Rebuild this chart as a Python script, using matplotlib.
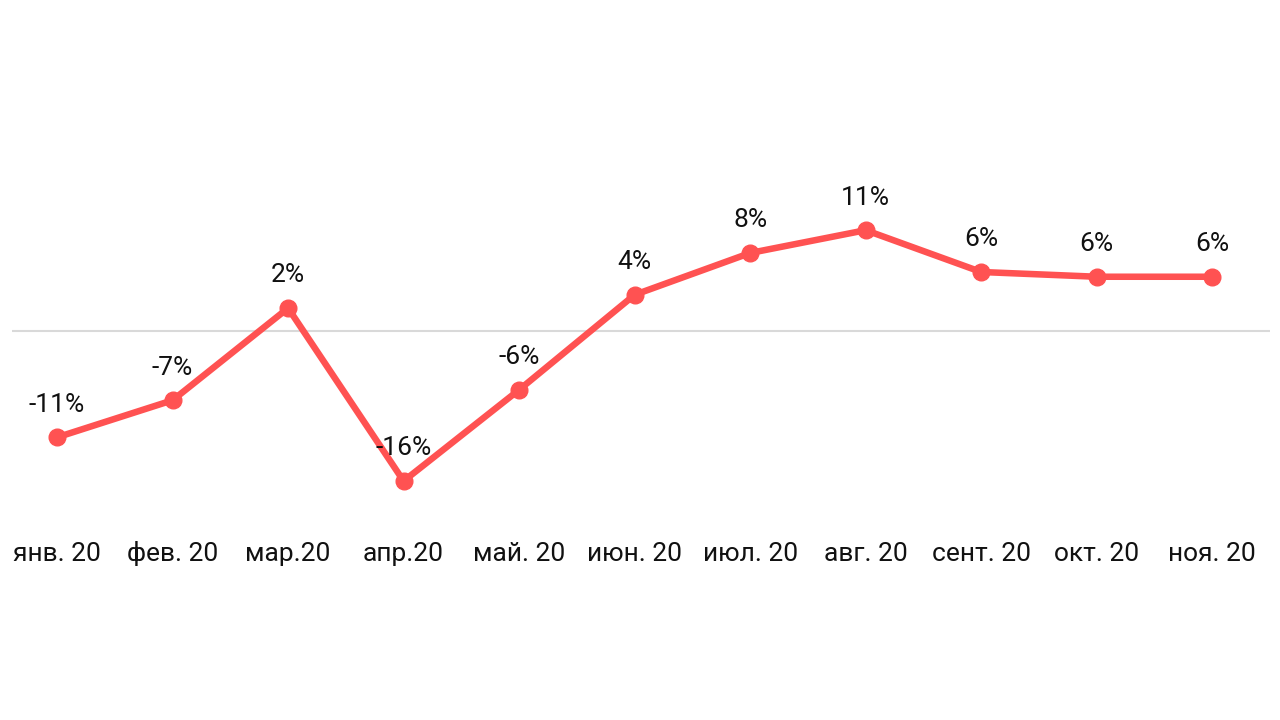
import matplotlib.pyplot as plt

plt.rcParams['font.family'] = ['Roboto', 'DejaVu Sans']

months = ['янв. 20', 'фев. 20', 'мар.20', 'апр.20', 'май. 20', 'июн. 20',
          'июл. 20', 'авг. 20', 'сент. 20', 'окт. 20', 'ноя. 20']
values = [-11.2, -7.3, 2.4, -15.8, -6.2, 3.8, 8.2, 10.6, 6.2, 5.7, 5.7]

fig = plt.figure(figsize=(12.8, 7.2), dpi=100)
ax = fig.add_axes([12 / 1280, 200 / 720, 1258 / 1280, 420 / 720])

x = list(range(len(months)))
ax.axhline(0, color='#d9d9d9', linewidth=1.5, zorder=1)
ax.plot(x, values, color='#ff5252', linewidth=4.7, marker='o',
        markersize=12, zorder=3, solid_capstyle='round')

# data labels above each point
for xi, v in zip(x, values):
    ax.annotate(f'{round(v):d}%', xy=(xi, v), xytext=(0, 23.5),
                textcoords='offset points', ha='center', va='center',
                fontsize=19, color='#111111', zorder=4)

ax.set_xlim(-0.39, 10.5)
ax.set_ylim(-19.9, 24.3)
ax.set_xticks(x)
ax.set_xticklabels(months, fontsize=19, color='#111111', va='baseline')
ax.tick_params(axis='x', length=0, pad=29.5)
ax.set_yticks([])
for s in ax.spines.values():
    s.set_visible(False)

fig.savefig('out.png', dpi=100, facecolor='white')
